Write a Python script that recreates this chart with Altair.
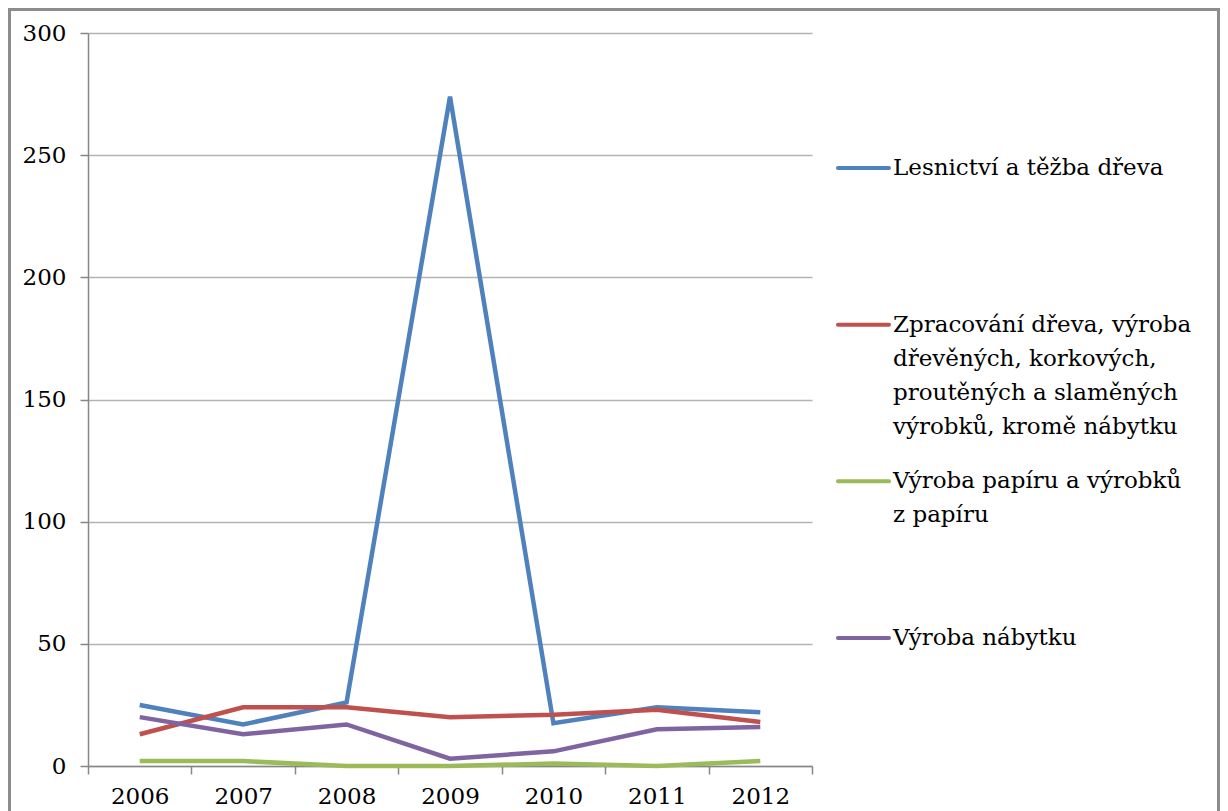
import altair as alt
import pandas as pd

years = [2006, 2007, 2008, 2009, 2010, 2011, 2012]

series_names = [
    "Lesnictví a těžba dřeva",
    "Zpracování dřeva, výroba dřevěných, korkových, proutěných a slaměných výrobků, kromě nábytku",
    "Výroba papíru a výrobků z papíru",
    "Výroba nábytku",
]
legend_labels = [
    "Lesnictví a těžba dřeva",
    "Zpracování dřeva, výroba\ndřevěných, korkových,\nproutěných a slaměných\nvýrobků, kromě nábytku",
    "Výroba papíru a výrobků\nz papíru",
    "Výroba nábytku",
]
colors = ["#4F81BD", "#C0504D", "#9BBB59", "#8064A2"]

lesnictvi = [25, 17, 26, 274, 17.5, 24, 22]
zpracovani = [13, 24, 24, 20, 21, 23, 18]
papir = [2, 2, 0, 0, 1, 0, 2]
nabytek = [20, 13, 17, 3, 6, 15, 16]

y_ticks = [0, 50, 100, 150, 200, 250, 300]

rows = []
for name, vals in zip(series_names, [lesnictvi, zpracovani, papir, nabytek]):
    for yr, v in zip(years, vals):
        rows.append({"year": yr, "value": v, "series": name})
df = pd.DataFrame(rows)

legend_df = pd.DataFrame({"series": series_names, "label": legend_labels})

FONT = "DejaVu Serif"
W, H = 724, 733
AXIS_GRAY = "#868686"

color = alt.Color("series:N", scale=alt.Scale(domain=series_names, range=colors), legend=None)

lines = alt.Chart(df).mark_line(strokeWidth=4.5).encode(
    x=alt.X(
        "year:O",
        scale=alt.Scale(type="band", paddingInner=0, paddingOuter=0),
        bandPosition=0.5,
        axis=alt.Axis(
            title=None, labelAngle=0, tickBand="extent", tickSize=8,
            tickColor=AXIS_GRAY, domainColor=AXIS_GRAY, tickWidth=1.5, domainWidth=1.5,
            labelFont=FONT, labelFontSize=23, labelColor="black", labelPadding=11,
            grid=False,
        ),
    ),
    y=alt.Y(
        "value:Q",
        scale=alt.Scale(domain=[0, 300], nice=False),
        axis=alt.Axis(
            title=None, values=y_ticks, tickSize=8, tickColor=AXIS_GRAY,
            domainColor=AXIS_GRAY, tickWidth=1.5, domainWidth=1.5,
            labelFont=FONT, labelFontSize=23, labelColor="black", labelPadding=14,
            grid=True, gridColor="#b3b3b3", gridWidth=1.5,
        ),
    ),
    color=color,
    detail="series:N",
)

legend_y = alt.Y(
    "series:N",
    scale=alt.Scale(type="point", domain=series_names, range=[135, 605], padding=0),
    axis=None,
)

legend_rules = alt.Chart(legend_df).mark_rule(strokeWidth=4, strokeCap="round").encode(
    x=alt.value(750), x2=alt.value(801), y=legend_y, color=color,
)

legend_text = alt.Chart(legend_df).mark_text(
    align="left", baseline="middle", font=FONT, fontSize=23, lineBreak="\n",
    lineHeight=34, color="black",
).encode(
    x=alt.value(805), y=legend_y, text="label:N",
)

border = alt.Chart(pd.DataFrame({"a": [0]})).mark_rect(
    fillOpacity=0, stroke="#8c8c8c", strokeWidth=3,
).encode(
    x=alt.value(-78.5), x2=alt.value(1130.5), y=alt.value(-23.5), y2=alt.value(820),
)

chart = alt.layer(lines, legend_rules, legend_text, border).resolve_scale(
    y="independent"
).properties(
    width=W, height=H,
    autosize=alt.AutoSizeParams(type="none"),
    padding={"left": 80, "top": 25, "right": 408, "bottom": 45},
    background="white",
).configure_view(stroke=None)

chart.save("out.html", embed_options={"renderer": "svg", "actions": False})
